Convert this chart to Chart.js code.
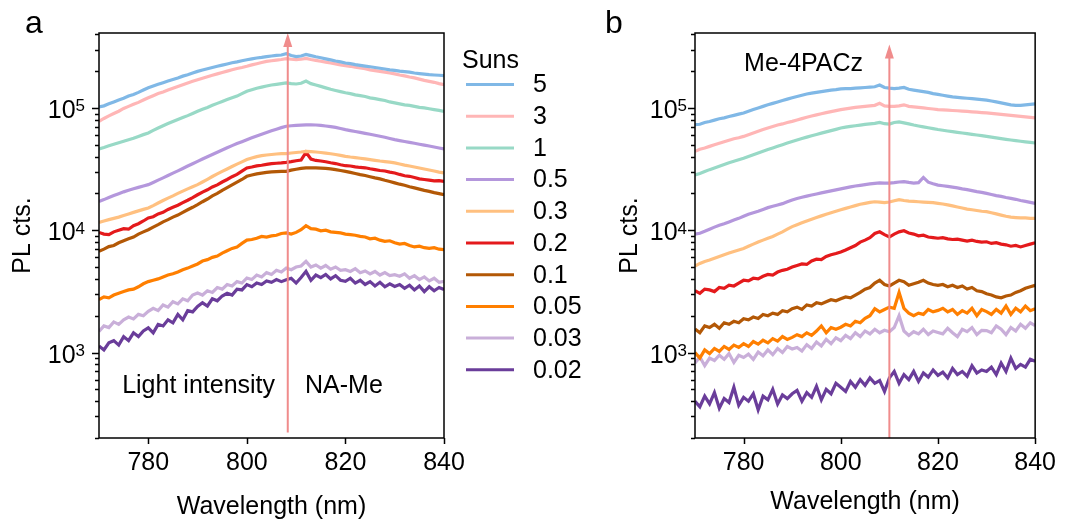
<!DOCTYPE html>
<html>
<head>
<meta charset="utf-8">
<script src="https://cdn.jsdelivr.net/npm/chart.js@4.4.1/dist/chart.umd.min.js"></script>
<style>
  body { margin: 0; background: #fff; width: 1066px; height: 522px; position: relative; overflow: hidden; }
  canvas { position: absolute; top: 0; }
  #chartA { left: 0; }
  #chartB { left: 600px; }
</style>
</head>
<body>
<canvas id="chartA" width="600" height="522"></canvas>
<canvas id="chartB" width="466" height="522"></canvas>
<script>
// wavelength grid (nm)
var wavelength = [770,771,772,773,774,775,776,777,778,779,780,781,782,783,784,785,786,787,788,789,790,
  791,792,793,794,795,796,797,798,799,800,801,802,803,804,805,806,807,808,809,810,
  811,812,813,814,815,816,817,818,819,820,821,822,823,824,825,826,827,828,829,830,
  831,832,833,834,835,836,837,838,839,840];

var suns = ['5', '3', '1', '0.5', '0.3', '0.2', '0.1', '0.05', '0.03', '0.02'];
var colors = ['#80b8e6', '#ffb6b6', '#98d9c6', '#b497dc', '#ffc080', '#e41a1c', '#b35806', '#ff7f00', '#c9afd9', '#6a3d9a'];

var xTicks = [780, 800, 820, 840];
var yTicks = [1000, 10000, 100000];

// panel a: NA-Me
var naMe5 = [102000,104000,108000,112000,116000,120000,125000,129000,134000,140000,146000,
  151000,156000,161000,166000,171000,176000,182000,187000,193000,199000,
  204000,209000,214000,219000,224000,229000,234000,238000,243000,248000,
  252000,256000,259000,263000,266000,269000,271000,278000,268000,263000,
  266000,274000,268000,262000,257000,252000,247000,242000,238000,233000,
  230000,226000,223000,220000,217000,214000,211000,208000,205000,203000,
  200000,198000,196000,193000,191000,189000,187000,186000,185000,184000];
var naMe3 = [77700,82000,86000,90000,94000,99000,103000,107000,111000,116000,121000,
  126000,131000,135000,140000,145000,150000,155000,160000,165000,170000,
  175000,180000,185000,190000,195000,200000,205000,210000,214000,219000,
  225000,230000,235000,240000,243000,246000,249000,253000,250000,248000,
  250000,254000,249000,245000,241000,237000,233000,229000,225000,222000,
  219000,215000,212000,209000,205000,202000,199000,196000,193000,190000,
  186000,183000,179000,176000,172000,168000,165000,162000,158000,155000];
var naMe1 = [46200,47500,49000,50500,52000,53500,55000,56500,58500,60500,62500,
  65500,68500,71500,74500,77500,80500,83500,86500,90000,93800,
  97500,101000,105000,109000,113000,117000,121000,125000,131000,137000,
  141000,145000,148000,151000,154000,156000,158000,160000,158000,157000,
  159000,166000,158000,154000,150000,146000,142000,139000,136000,133000,
  131000,128000,126000,124000,121000,119000,117000,115000,112000,110000,
  108000,106000,105000,103000,101000,100000,98500,97000,95500,93800];
var naMe05 = [17200,17800,18500,19200,19900,20600,21200,21800,22400,23000,23600,
  24600,25700,26800,28000,29300,30600,32000,33500,35000,36600,
  38200,39900,41600,43400,45300,47200,49200,51100,53000,55000,
  57000,59000,61000,63000,65000,67000,69000,70800,71500,72000,
  72400,72600,72800,72500,72000,71200,70300,69300,67900,66500,
  65300,64200,63100,62000,60900,59800,58700,57600,56300,55100,
  54100,53200,52300,51400,50500,49600,48800,47900,47000,46200];
var naMe03 = [11600,11900,12200,12500,12800,13200,13600,14000,14400,14800,15200,
  15900,16700,17500,18300,19100,20000,20900,21800,22700,23600,
  24800,26100,27500,28900,30300,31700,33200,34700,36200,37800,
  39000,40000,40700,41200,41600,42000,42300,42300,42800,43200,
  43600,44200,44000,43600,43200,42700,42200,41600,40900,40200,
  39700,39300,38800,38300,37800,37300,36800,36400,36000,35500,
  34800,34100,33500,32900,32300,31700,31100,30500,29900,29400];
var naMe02 = [9600,9300,9200,9700,10000,10300,10200,10900,11300,11900,12600,
  12900,13600,14000,14800,15400,16000,16800,17600,18500,19500,
  20500,21400,22600,23500,24800,26000,27400,28600,30400,32300,
  32900,33600,34000,34600,35000,35300,35500,35900,36400,37000,
  37500,43300,38200,37200,36800,36300,35600,35100,34300,33700,
  33500,33000,32600,32400,31800,31300,30800,30500,29900,29400,
  28600,27900,27600,27000,26300,26000,25700,25300,25400,25100];
var naMe01 = [6730,7000,7350,7500,7900,8200,8500,8800,9300,9700,10100,
  10600,11100,11700,12200,12800,13300,14000,14700,15400,16200,
  17100,18000,19100,20000,21200,22300,23500,24700,26000,27600,
  28300,28900,29300,29700,30000,30200,30300,30300,31000,31500,
  32000,32300,32400,32300,32200,32000,31700,31300,30800,30300,
  29700,29100,28500,28000,27400,26800,26300,25600,25000,24400,
  23800,23300,22700,22200,21700,21200,20800,20300,19900,19500];
var naMe005 = [2710,2850,2800,2950,3050,3150,3250,3300,3450,3650,3800,
  3900,4000,4150,4300,4400,4550,4750,4900,5100,5300,
  5600,5750,6000,6150,6500,6800,7100,7300,7800,8300,
  8400,8600,8900,8800,9000,9100,9400,9500,9300,9600,
  10100,10900,10300,10200,9900,10000,9700,9600,9500,9300,
  9200,9100,8900,8800,8500,8600,8300,8100,8200,7900,
  7700,7800,7500,7300,7400,7200,7100,7200,7000,6950];
var naMe003 = [1490,1650,1600,1780,1700,1850,1950,1880,2050,2000,2170,
  2300,2200,2450,2350,2600,2500,2750,2650,2950,3070,
  2950,3200,3100,3400,3300,3600,3500,3800,3700,4070,
  3950,4300,4150,4500,4350,4700,4550,4900,4750,5000,
  5100,5560,5000,5200,4900,5150,4800,5000,4700,4760,
  4600,4850,4500,4650,4400,4600,4300,4500,4250,4330,
  4200,4400,4050,4250,3950,4150,3850,4050,3750,3820];
var naMe002 = [1130,1050,1200,1250,1150,1350,1250,1450,1350,1500,1590,
  1450,1700,1650,1850,1750,2050,1850,2200,2150,2380,
  2550,2400,2750,2650,2900,3050,2950,3300,3250,3590,
  3450,3700,3600,3850,3750,3950,3800,3940,4050,3700,
  4100,4610,3900,4300,4100,4350,4000,4250,3900,3820,
  4050,3700,3900,3600,3800,3500,3750,3450,3650,3470,
  3600,3350,3550,3250,3500,3150,3450,3200,3400,3270];

// panel b: Me-4PACz
var me4pacz5 = [72900,73500,76000,77500,79500,81500,83000,85000,87000,89000,91000,
  94000,97000,100000,103000,106000,109000,112000,115000,118000,121000,
  124000,127000,130000,132000,134000,136000,138000,140000,141000,143000,
  144000,144000,145000,146000,147000,148000,149000,154000,147000,145000,
  144000,145000,147000,142000,140000,138000,136000,134000,131000,129000,
  127000,125000,123000,122000,121000,120000,119000,118000,117000,116000,
  114000,112000,110000,108000,106000,105000,105000,106000,107000,108000];
var me4pacz3 = [44100,46000,47000,48500,50000,51500,53000,54500,56000,57000,58500,
  60500,62500,64500,66500,68500,70500,72500,74000,76000,77700,
  79700,81800,83800,85800,87800,89700,91600,93400,95100,96800,
  98300,99600,101000,102000,103000,104000,105000,109000,104000,103000,
  103000,104000,106000,103000,102000,101000,100000,99000,98000,96800,
  96300,95800,95300,94800,94200,93600,93000,92400,91700,91000,
  90200,89400,88600,87800,87000,86100,85200,84400,83600,82800];
var me4pacz1 = [28300,29100,30200,31300,32300,33400,34500,35600,36600,37700,38800,
  40100,41500,42900,44300,45700,47100,48600,50100,51600,53200,
  54700,56200,57700,59200,60700,62200,63700,65200,66800,68500,
  69600,70600,71500,72400,73300,74100,74800,76200,74300,73800,
  76000,77000,75500,74000,72500,71200,70000,68800,67700,66600,
  65700,64800,64000,63200,62400,61600,60800,60100,59400,58500,
  57700,56900,56100,55400,54700,54000,53400,52800,52300,51700];
var me4pacz05 = [9300,9450,9800,10200,10600,11000,11300,11700,12100,12500,13000,
  13500,13900,14300,14800,15300,15700,16100,16500,17100,17700,
  18200,18600,19000,19400,19800,20200,20600,21000,21400,21800,
  22200,22600,23000,23300,23600,23900,24200,24400,24300,24300,
  24500,24800,25000,24600,24300,24500,27000,24700,24000,23400,
  23100,22800,22500,22200,21800,21500,21100,20700,20400,20000,
  19600,19200,18900,18500,18200,17900,17500,17200,16900,16600];
var me4pacz03 = [5100,5350,5550,5700,5900,6100,6300,6500,6700,6900,7100,
  7400,7700,8000,8300,8600,8900,9300,9700,10200,10700,
  11100,11500,11900,12300,12700,13100,13500,13900,14300,14700,
  15100,15500,15900,16300,16600,16900,17100,17000,16800,17000,
  17400,17800,17500,17300,17200,17100,17000,16900,16800,16600,
  16400,16100,15800,15500,15200,14900,14700,14500,14300,14200,
  13900,13600,13300,13000,12800,12700,12600,12600,12500,12500];
var me4pacz02 = [3200,3050,3300,3250,3150,3400,3350,3550,3500,3700,3900,
  3850,4050,4000,4200,4350,4300,4550,4700,4800,5000,
  5150,5300,5250,5600,5800,5750,6100,6300,6450,6650,
  6900,7200,7500,8000,8300,8700,9400,9700,9200,8800,
  9300,9700,9900,9500,9300,9000,9100,8800,8700,8600,
  8700,8500,8400,8450,8300,8150,8300,8100,8000,8050,
  7800,7900,7700,7600,7400,7500,7300,7500,7700,7900];
var me4pacz01 = [1560,1450,1650,1600,1700,1580,1750,1700,1800,1750,1890,
  1850,1950,1900,2050,2000,2100,2050,2200,2150,2280,
  2350,2250,2450,2400,2550,2500,2600,2700,2650,2750,
  2850,2800,2950,3100,3300,3400,3700,3900,3600,3500,
  3700,3900,3800,3550,3650,3750,3900,3700,3600,3540,
  3600,3450,3550,3400,3500,3300,3400,3200,3150,3020,
  2950,2850,2800,2900,2950,3100,3200,3350,3450,3540];
var me4pacz005 = [1000,900,1050,980,1080,1020,1120,1060,1150,1100,1180,
  1120,1230,1170,1260,1200,1300,1240,1350,1280,1330,
  1400,1350,1450,1380,1500,1650,1450,1600,1550,1610,
  1700,1650,1800,1750,1900,2000,2280,2150,2250,2350,
  2300,3100,2300,2100,2000,2100,2050,2250,2150,2210,
  2300,2150,2250,2050,2200,2100,2300,2000,2250,2160,
  2050,2250,2100,2400,2050,2300,2150,2400,2200,2280];
var me4pacz003 = [820,920,780,900,860,950,880,980,830,950,910,
  970,880,1010,940,1050,960,1080,1000,1120,1070,
  1100,1030,1160,1080,1220,1130,1280,1180,1320,1250,
  1380,1300,1450,1350,1500,1420,1550,1450,1520,1480,
  1600,2000,1500,1380,1480,1420,1550,1400,1500,1460,
  1420,1580,1450,1350,1550,1480,1600,1400,1520,1510,
  1450,1650,1550,1400,1600,1500,1700,1580,1750,1660];
var me4pacz002 = [400,360,440,380,470,350,420,390,520,370,430,
  400,460,340,440,410,500,380,450,420,460,
  490,400,470,430,530,410,500,460,560,520,
  480,580,520,600,540,620,560,590,480,620,
  700,560,660,600,700,580,680,630,720,650,
  690,620,740,660,700,640,780,680,720,700,
  760,660,820,700,900,740,800,760,880,850];

// arrows: [wavelength, from, to]
var arrowA = [808.3, 222, 410000];
var arrowB = [810, 200, 330000];

var FONT = '"Liberation Sans", Arial, sans-serif';
var ARROW = '#f08c8c';

Chart.defaults.font.family = FONT;
Chart.defaults.color = '#000';

var framePlugin = {
  id: 'frame',
  afterDatasetsDraw: function(chart, args, o) {
    var ctx = chart.ctx, a = chart.chartArea;
    var xs = chart.scales.x, ys = chart.scales.y;
    ctx.save();

    // arrow
    var ax = xs.getPixelForValue(o.arrow[0]);
    var yb = ys.getPixelForValue(o.arrow[1]);
    var yt = ys.getPixelForValue(o.arrow[2]);
    ctx.strokeStyle = ARROW;
    ctx.fillStyle = ARROW;
    ctx.lineWidth = 2;
    ctx.beginPath();
    ctx.moveTo(ax, yb);
    ctx.lineTo(ax, yt + 10);
    ctx.stroke();
    ctx.beginPath();
    ctx.moveTo(ax, yt);
    ctx.lineTo(ax - 4.5, yt + 14);
    ctx.lineTo(ax + 4.5, yt + 14);
    ctx.closePath();
    ctx.fill();

    // box
    ctx.strokeStyle = '#000';
    ctx.lineWidth = 1.5;
    ctx.strokeRect(a.left, a.top, a.right - a.left, a.bottom - a.top);

    // log ticks on the left, major ticks below
    ctx.beginPath();
    for (var n = 2; n <= 5; n++) {
      for (var k = 1; k <= 9; k++) {
        var v = k * Math.pow(10, n);
        if (v < ys.min || v > ys.max) continue;
        var y = Math.round(ys.getPixelForValue(v)) + 0.5;
        var len = k === 1 ? 7 : 4;
        ctx.moveTo(a.left - len, y);
        ctx.lineTo(a.left, y);
      }
    }
    xTicks.forEach(function(t) {
      var x = Math.round(xs.getPixelForValue(t)) + 0.5;
      ctx.moveTo(x, a.bottom);
      ctx.lineTo(x, a.bottom + 6);
    });
    ctx.stroke();

    // y tick labels 10^n
    ctx.fillStyle = '#000';
    ctx.textBaseline = 'alphabetic';
    ctx.textAlign = 'right';
    yTicks.forEach(function(t) {
      var y = ys.getPixelForValue(t);
      var exp = String(Math.round(Math.log10(t)));
      var xr = a.left - o.yPad;
      ctx.font = '17px ' + FONT;
      var ew = ctx.measureText(exp).width;
      ctx.fillText(exp, xr, y + 3.5);
      ctx.font = '25px ' + FONT;
      ctx.fillText('10', xr - ew, y + 10);
    });
    ctx.textAlign = 'left';

    // annotations
    ctx.font = '25px ' + FONT;
    o.notes.forEach(function(t) {
      ctx.fillText(t.text, xs.getPixelForValue(t.x), ys.getPixelForValue(t.y));
    });

    // panel letter
    ctx.font = '32px ' + FONT;
    ctx.fillText(o.letter[0], o.letter[1], o.letter[2]);

    // legend
    if (o.legend) {
      ctx.font = '25px ' + FONT;
      ctx.textBaseline = 'middle';
      ctx.fillText('Suns', 462, 61);
      chart.data.datasets.forEach(function(ds, i) {
        var y = 84.5 + i * 31.7;
        ctx.strokeStyle = ds.borderColor;
        ctx.lineWidth = 3;
        ctx.beginPath();
        ctx.moveTo(466, y);
        ctx.lineTo(514, y);
        ctx.stroke();
        ctx.fillText(ds.label, 533, y + 1);
      });
    }
    ctx.restore();
  }
};

function makeChart(id, series, cfg) {
  var datasets = series.map(function(vals, i) {
    return {
      label: suns[i],
      data: wavelength.map(function(w, j) { return { x: w, y: vals[j] }; }),
      borderColor: colors[i],
      borderWidth: 3.2,
      pointRadius: 0,
      tension: 0,
      fill: false
    };
  });

  return new Chart(document.getElementById(id).getContext('2d'), {
    type: 'line',
    data: { datasets: datasets },
    plugins: [framePlugin],
    options: {
      responsive: false,
      animation: false,
      devicePixelRatio: 1,
      layout: { padding: { top: 33, right: cfg.rightPad, bottom: 0, left: 0 } },
      plugins: {
        legend: { display: false },
        tooltip: { enabled: false },
        frame: { arrow: cfg.arrow, notes: cfg.notes, letter: cfg.letter, legend: cfg.legend, yPad: cfg.yPad }
      },
      scales: {
        x: {
          type: 'linear', min: 770, max: 840,
          afterBuildTicks: function(s) { s.ticks = xTicks.map(function(v) { return { value: v }; }); },
          afterFit: function(s) { s.height = 84; },
          grid: { display: false, drawTicks: false },
          border: { display: false },
          ticks: { padding: 10, font: { size: 25 }, color: '#000', maxRotation: 0, autoSkip: false },
          title: { display: true, text: 'Wavelength (nm)', font: { size: 25 }, color: '#000', padding: { top: 0, bottom: cfg.xTitlePad } }
        },
        y: {
          type: 'logarithmic', min: 200, max: 410000,
          afterBuildTicks: function(s) { s.ticks = yTicks.map(function(v) { return { value: v }; }); },
          afterFit: function(s) { s.width = cfg.leftW; },
          grid: { display: false, drawTicks: false },
          border: { display: false },
          ticks: { display: false },
          title: { display: true, text: 'PL cts.', font: { size: 25 }, color: '#000', padding: { top: cfg.yTitlePad, bottom: 0 } }
        }
      }
    }
  });
}

makeChart('chartA',
  [naMe5, naMe3, naMe1, naMe05, naMe03, naMe02, naMe01, naMe005, naMe003, naMe002],
  {
    rightPad: 156, leftW: 99, yPad: 14, yTitlePad: 8, xTitlePad: 0,
    arrow: arrowA,
    notes: [{ text: 'Light intensity', x: 774.7, y: 470 }, { text: 'NA-Me', x: 811.8, y: 470 }],
    letter: ['a', 25, 33],
    legend: true
  });

makeChart('chartB',
  [me4pacz5, me4pacz3, me4pacz1, me4pacz05, me4pacz03, me4pacz02, me4pacz01, me4pacz005, me4pacz003, me4pacz002],
  {
    rightPad: 26, leftW: 95, yPad: 8, yTitlePad: 15, xTitlePad: 5,
    arrow: arrowB,
    notes: [{ text: 'Me-4PACz', x: 780.1, y: 199000 }],
    letter: ['b', 5, 33],
    legend: false
  });
</script>
</body>
</html>
